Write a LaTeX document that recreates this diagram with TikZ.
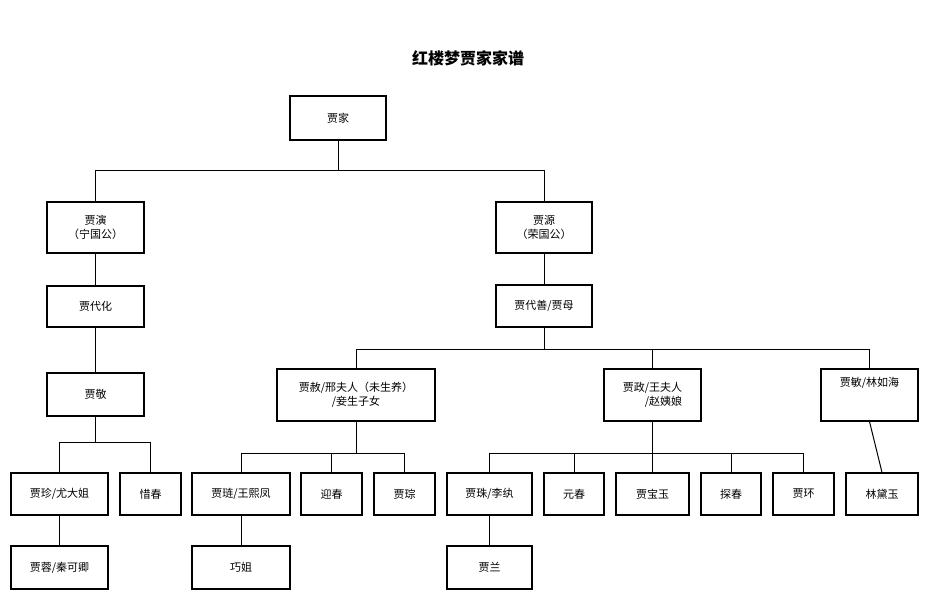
\documentclass[tikz,border=0pt]{standalone}
\usepackage{fontspec}
\setmainfont{Noto Sans CJK SC}
\begin{document}
\begin{tikzpicture}[x=1pt,y=-1pt,
  box/.style={draw,line width=1.2pt,inner sep=0pt,font=\fontsize{11}{14}\selectfont,align=center},
  ln/.style={line width=1pt}]
\useasboundingbox (0,0) rectangle (951,611);
\def\bx#1#2#3#4#5#6{\node[box,minimum width=#4-#2,minimum height=#5-#3] (#1) at ({(#2+#4)/2},{(#3+#5)/2}) {#6};}
\node[font=\fontsize{16}{18}\selectfont\bfseries] (title) at (468,58) {红楼梦贾家家谱};
\bx{jia}{290}{96}{386}{140}{贾家}
\bx{yan}{47}{202}{144}{253}{贾演\\（宁国公）}
\bx{yuan}{496}{202}{592}{253}{贾源\\（荣国公）}
\bx{daihua}{47}{286}{144}{327}{贾代化}
\bx{daishan}{496}{285}{592}{327}{贾代善/贾母}
\bx{jing}{47}{373}{144}{416}{贾敬}
\bx{she}{277}{369}{435}{421}{贾赦/邢夫人（未生养）\\/妾生子女}
\bx{zheng}{604}{369}{701}{421}{贾政/王夫人\\\hspace*{2em}/赵姨娘}
\bx{min}{821}{369}{918}{421}{贾敏/林如海\\[12pt]}
\bx{zhen}{11}{473}{108}{515}{贾珍/尤大姐}
\bx{xichun}{120}{473}{181}{515}{惜春}
\bx{lian}{192}{473}{290}{515}{贾琏/王熙凤}
\bx{yingchun}{301}{473}{362}{515}{迎春}
\bx{cong}{374}{473}{435}{515}{贾琮}
\bx{zhu}{447}{473}{532}{515}{贾珠/李纨}
\bx{yuanchun}{544}{473}{604}{515}{元春}
\bx{baoyu}{616}{473}{689}{515}{贾宝玉}
\bx{tanchun}{701}{473}{761}{515}{探春}
\bx{huan}{773}{473}{834}{515}{贾环}
\bx{daiyu}{846}{473}{918}{515}{林黛玉}
\bx{rong}{11}{546}{108}{589}{贾蓉/秦可卿}
\bx{qiaojie}{192}{546}{290}{589}{巧姐}
\bx{lan}{447}{546}{532}{589}{贾兰}
\foreach \p/\c/\y in {jia/yan/170,jia/yuan/170,daishan/she/349,daishan/zheng/349,daishan/min/349,
  jing/zhen/442,jing/xichun/442,she/lian/453,she/yingchun/453,she/cong/453,
  zheng/zhu/453,zheng/yuanchun/453,zheng/baoyu/453,zheng/tanchun/453,zheng/huan/453}
  \draw[ln] (\p.south) -- (\p.south |- 0,\y) -| (\c.north);
\foreach \p/\c in {yan/daihua,daihua/jing,yuan/daishan,min/daiyu,zhen/rong,lian/qiaojie,zhu/lan}
  \draw[ln] (\p.south) -- (\c.north);
\end{tikzpicture}
\end{document}
